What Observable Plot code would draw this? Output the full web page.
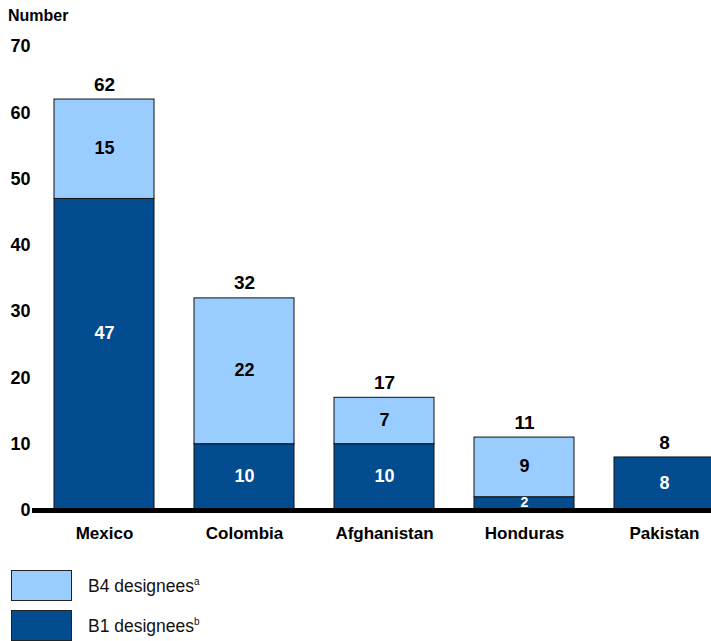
<!DOCTYPE html>
<html>
<head>
<meta charset="utf-8">
<script src="https://cdn.jsdelivr.net/npm/d3@7"></script>
<script src="https://cdn.jsdelivr.net/npm/@observablehq/plot@0.6"></script>
<style>
  html, body { margin: 0; padding: 0; background: #fff; overflow: hidden; width: 711px; height: 641px; }
  body { position: relative; font-family: "Liberation Sans", Arial, sans-serif; }
  #ytitle { position: absolute; left: 8px; top: 7px; font-size: 16px; font-weight: bold; color: #000; }
  #chart { position: absolute; left: 0; top: 0; }
  .leg { position: absolute; left: 11px; width: 61px; height: 31px; border: 1px solid #222; box-sizing: border-box; }
  .legtxt { position: absolute; left: 88px; font-size: 17.5px; color: #111; }
  .legtxt sup { font-size: 10px; vertical-align: 7px; }
</style>
</head>
<body>
<div id="ytitle">Number</div>
<div id="chart"></div>
<div class="leg" style="top:570px;background:#99CCFF"></div>
<div class="legtxt" style="top:576px">B4 designees<sup>a</sup></div>
<div class="leg" style="top:610px;background:#034C8F"></div>
<div class="legtxt" style="top:616px">B1 designees<sup>b</sup></div>
<script>
const countries = ["Mexico", "Colombia", "Afghanistan", "Honduras", "Pakistan"];
const b1Values = [47, 10, 10, 2, 8];
const b4Values = [15, 22, 7, 9, 0];
const yTicks = [0, 10, 20, 30, 40, 50, 60, 70];

const DARK = "#034C8F";
const LIGHT = "#99CCFF";

const rows = countries.map((c, i) => ({
  country: c,
  b1: b1Values[i],
  b4: b4Values[i],
  total: b1Values[i] + b4Values[i]
}));

const tallB1 = rows.filter(d => d.b1 > 30);
const shortB1 = rows.filter(d => d.b1 <= 30);

const plot = Plot.plot({
  width: 711,
  height: 545,
  marginLeft: 32,
  marginRight: 0,
  marginTop: 0,
  marginBottom: 35,
  style: { fontFamily: "Liberation Sans, Arial, sans-serif", background: "transparent", overflow: "hidden" },
  x: { domain: countries, range: [14, 754], padding: 0.2857, label: null },
  y: { domain: [0, 70], range: [510, 46], label: null },
  marks: [
    Plot.barY(rows, { x: "country", y1: 0, y2: "b1", fill: DARK, stroke: "#111", strokeWidth: 1, clip: true }),
    Plot.barY(rows.filter(d => d.b4 > 0), { x: "country", y1: "b1", y2: "total", fill: LIGHT, stroke: "#111", strokeWidth: 1, clip: true }),
    Plot.text(shortB1, { x: "country", y: d => d.b1 / 2, text: d => String(d.b1), fill: "white", fontWeight: "bold", fontSize: d => d.b1 < 4 ? 14 : 18, dy: -1 }),
    Plot.text(tallB1, { x: "country", y: d => d.b1 / 2, text: d => String(d.b1), fill: "white", fontWeight: "bold", fontSize: 18, dy: -21 }),
    Plot.text(rows.filter(d => d.b4 > 0), { x: "country", y: d => d.b1 + d.b4 / 2, text: d => String(d.b4), fill: "black", fontWeight: "bold", fontSize: 18, dy: -1 }),
    Plot.text(rows, { x: "country", y: "total", text: d => String(d.total), fill: "black", fontWeight: "bold", fontSize: 19, dy: -15 }),
    Plot.ruleY([0], { stroke: "black", strokeWidth: 5 }),
    Plot.axisY(yTicks, { ticks: yTicks, tickSize: 0, tickPadding: 2, fontSize: 18, fontWeight: "bold", fill: "black", label: null }),
    Plot.axisX({ tickSize: 0, tickPadding: 16, fontSize: 17, fontWeight: "bold", fill: "black", label: null })
  ]
});
document.getElementById("chart").appendChild(plot);
</script>
</body>
</html>
